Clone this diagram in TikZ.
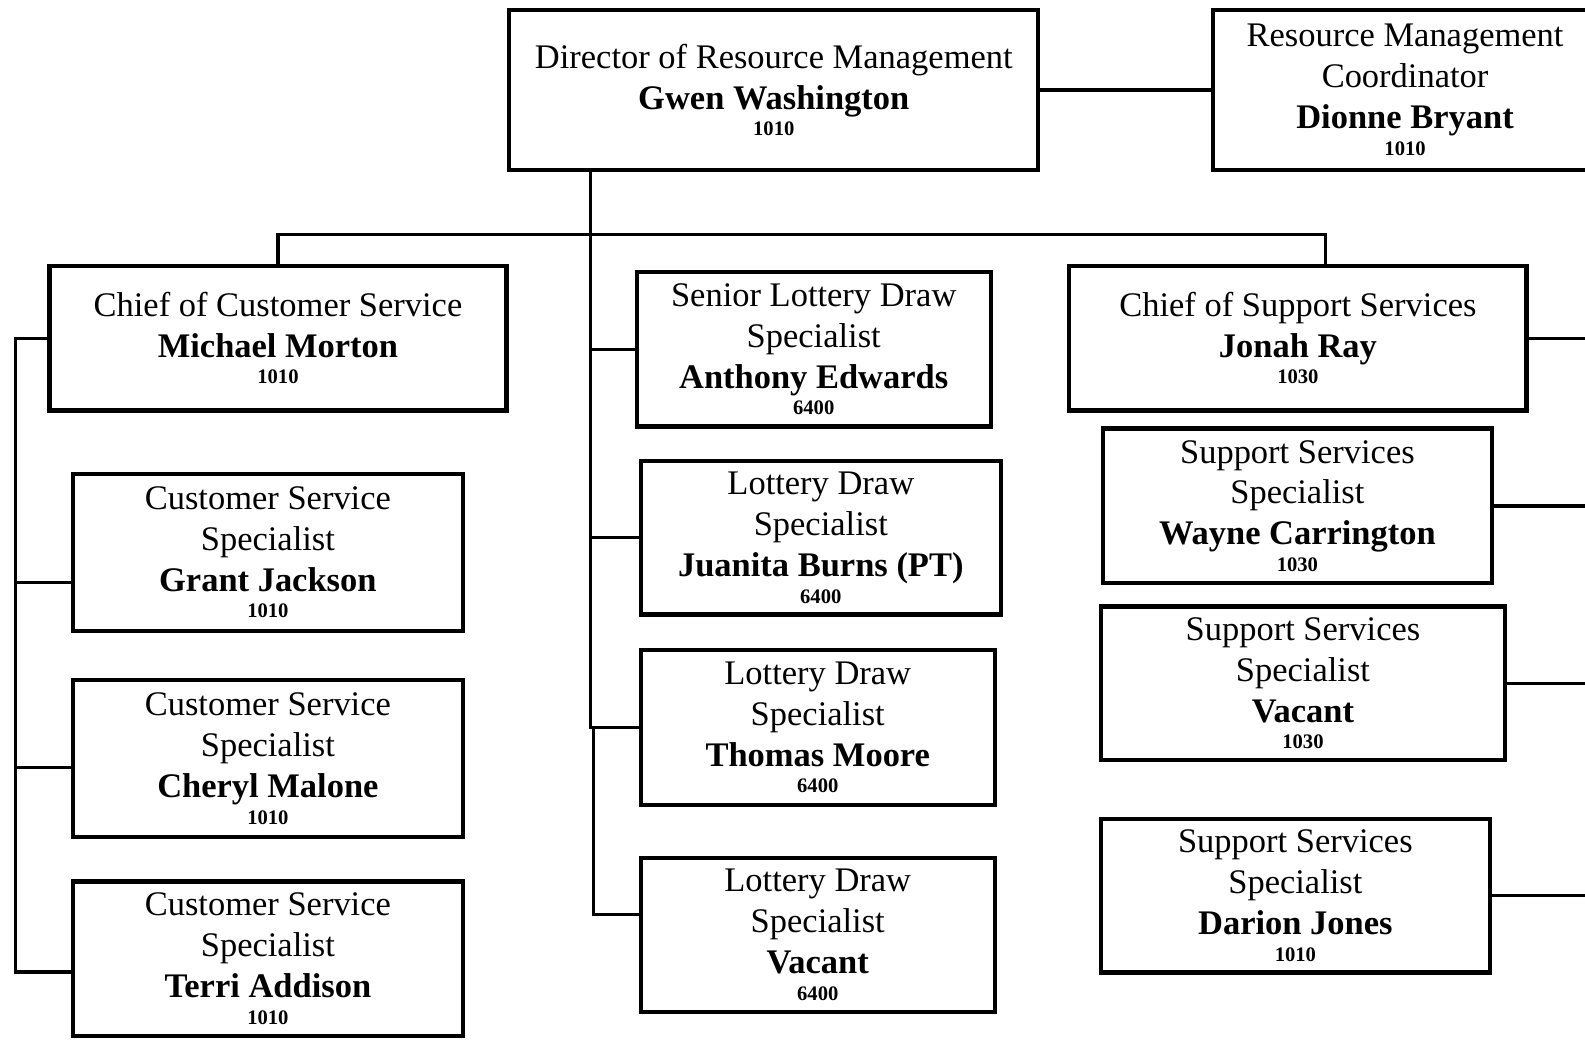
\documentclass[tikz,border=0pt]{standalone}
\usepackage{fontspec}
\setmainfont{Liberation Serif}
\usetikzlibrary{positioning}

\newcommand{\pname}[1]{{\bfseries #1}}
\newcommand{\pcode}[1]{{\fontsize{5.8}{7}\selectfont\bfseries #1}}

\tikzset{
	post/.style={draw, line width=1.2pt, align=center, inner sep=0pt,
		font=\fontsize{9.7}{11.5}\selectfont,
		execute at begin node=\rule{0pt}{10.6pt}},
	link/.style={line width=0.9pt}
}

\begin{document}
\begin{tikzpicture}[x=0.01cm, y=-0.01cm]
		\clip (0,0) rectangle (1568,1028);

		% top
		\node[post, minimum width=5.23cm, minimum height=1.58cm] (dir) at (765.5,89) {Director of Resource Management\\\pname{Gwen Washington}\\[-4pt]\pcode{1010}};
		\node[post, minimum width=3.80cm, minimum height=1.58cm] (coord) at (1390,89) {Resource Management\\Coordinator\\\pname{Dionne Bryant}\\[-4pt]\pcode{1010}};

		% chiefs and senior
		\node[post, minimum width=4.52cm, minimum height=1.43cm] (ccs) at (275,334.5) {Chief of Customer Service\\\pname{Michael Morton}\\[-4pt]\pcode{1010}};
		\node[post, minimum width=3.50cm, minimum height=1.53cm] (sld) at (805,345.5) {Senior Lottery Draw\\Specialist\\\pname{Anthony Edwards}\\[-4pt]\pcode{6400}};
		\node[post, minimum width=4.52cm, minimum height=1.43cm] (chs) at (1284,334.5) {Chief of Support Services\\\pname{Jonah Ray}\\[-4pt]\pcode{1030}};

		% customer service
		\node[post, minimum width=3.86cm, minimum height=1.55cm] (cs1) at (265,546.5) {Customer Service\\Specialist\\\pname{Grant Jackson}\\[-4pt]\pcode{1010}};
		\node[post, minimum width=3.86cm, minimum height=1.55cm] (cs2) at (265,750.5) {Customer Service\\Specialist\\\pname{Cheryl Malone}\\[-4pt]\pcode{1010}};
		\node[post, minimum width=3.86cm, minimum height=1.53cm] (cs3) at (265,948.5) {Customer Service\\Specialist\\\pname{Terri Addison}\\[-4pt]\pcode{1010}};

		% lottery draw
		\node[post, minimum width=3.56cm, minimum height=1.52cm] (ld1) at (812,532) {Lottery Draw\\Specialist\\\pname{Juanita Burns (PT)}\\[-4pt]\pcode{6400}};
		\node[post, minimum width=3.50cm, minimum height=1.53cm] (ld2) at (809,719.5) {Lottery Draw\\Specialist\\\pname{Thomas Moore}\\[-4pt]\pcode{6400}};
		\node[post, minimum width=3.50cm, minimum height=1.52cm] (ld3) at (809,925) {Lottery Draw\\Specialist\\\pname{Vacant}\\[-4pt]\pcode{6400}};

		% support services
		\node[post, minimum width=3.85cm, minimum height=1.53cm] (ss1) at (1283.5,500.5) {Support Services\\Specialist\\\pname{Wayne Carrington}\\[-4pt]\pcode{1030}};
		\node[post, minimum width=4.00cm, minimum height=1.52cm] (ss2) at (1289,676) {Support Services\\Specialist\\\pname{Vacant}\\[-4pt]\pcode{1030}};
		\node[post, minimum width=3.85cm, minimum height=1.52cm] (ss3) at (1281.5,886) {Support Services\\Specialist\\\pname{Darion Jones}\\[-4pt]\pcode{1010}};

		\coordinate (trunk) at (584,0);
		\coordinate (bus) at (0,232);
		\coordinate (lbus) at (15,0);
		\coordinate (rbus) at (1600,0);
		\coordinate (cs1in) at ([yshift=-0.295cm]cs1.west);
		\coordinate (cs2in) at ([yshift=-0.085cm]cs2.west);
		\coordinate (cs3in) at ([yshift=-0.13cm]cs3.west);
		\coordinate (ld3in) at ([yshift=0.2cm]ld3.west);

		\draw[link] (dir.east) -- (coord.west);

		% trunk to the lottery draw posts
		\draw[link] (dir.south -| trunk) |- (ld2.west);
		\draw[link] (trunk |- sld.west) -- (sld.west);
		\draw[link] (trunk |- ld1.west) -- (ld1.west);
		\draw[link] ([xshift=0.85pt]trunk |- ld2.west) |- (ld3in);

		% bus to the chiefs
		\draw[link] (ccs.north) |- ([xshift=0.27cm]chs.north |- bus) -- ([xshift=0.27cm]chs.north);

		% left side
		\draw[link] (ccs.west) -| (lbus |- cs3in) -- (cs3in);
		\draw[link] (lbus |- cs1in) -- (cs1in);
		\draw[link] (lbus |- cs2in) -- (cs2in);

		% right side
		\draw[link] (chs.east) -- (rbus |- chs.east);
		\draw[link] (ss1.east) -- (rbus |- ss1.east);
		\draw[link] (ss2.east) -- (rbus |- ss2.east);
		\draw[link] (ss3.east) -- (rbus |- ss3.east);
	\end{tikzpicture}
\end{document}
